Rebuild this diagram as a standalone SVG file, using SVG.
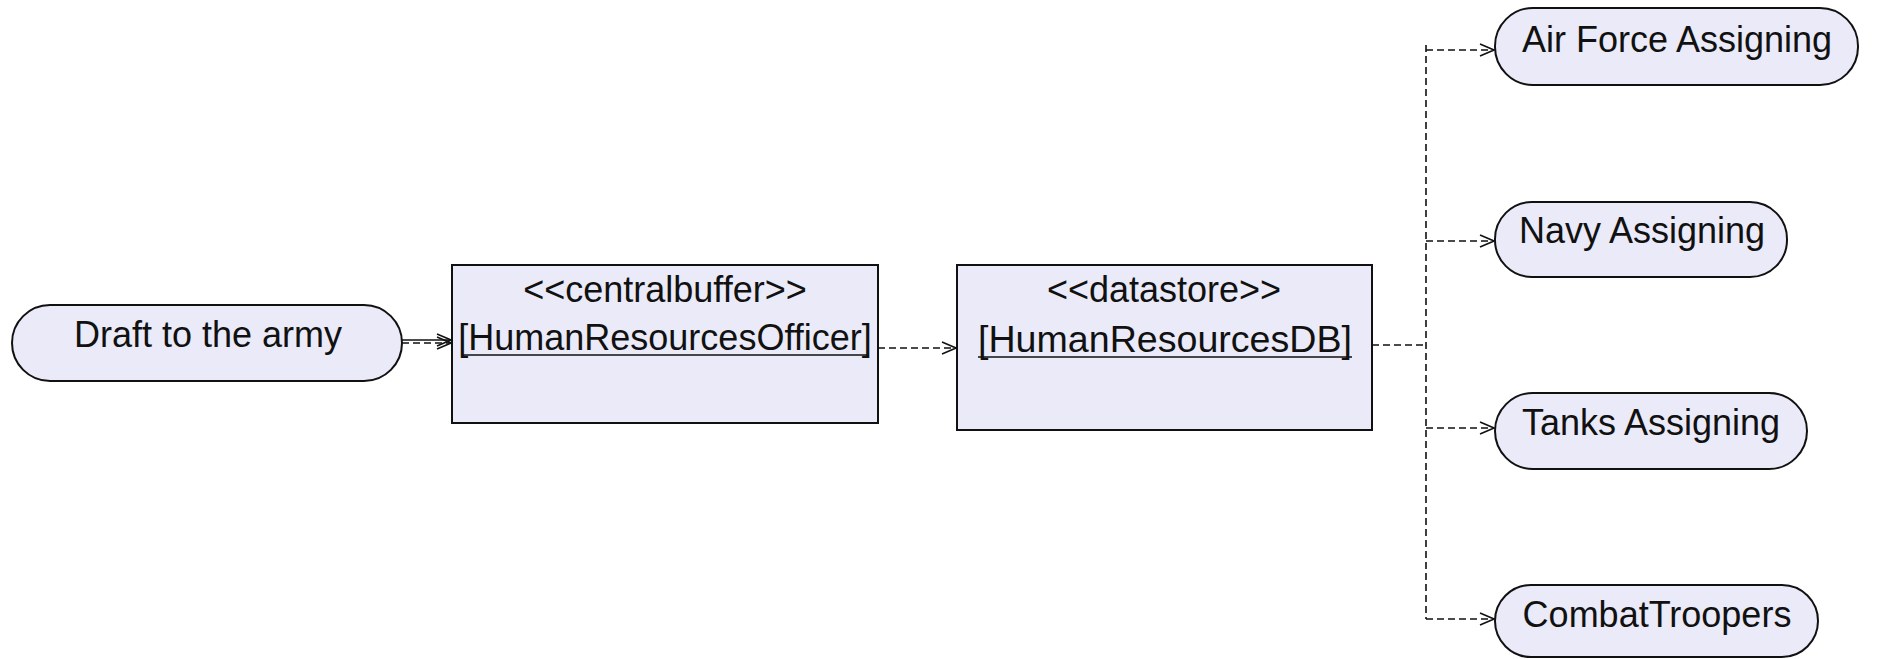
<svg xmlns="http://www.w3.org/2000/svg" width="1886" height="659" viewBox="0 0 1886 659">
<style>
.act{fill:#EAEAF8;stroke:#111;stroke-width:2}
.obj{fill:#EAEAF8;stroke:#111;stroke-width:2}
.t{font-family:"Liberation Sans",Arial,sans-serif;font-size:36px;fill:#111;text-anchor:middle}
.c{fill:none;stroke:#111;stroke-width:1.6}
.d{stroke-dasharray:7,4}
.ul{stroke:#111;stroke-width:1.6}
</style>
<defs>
<marker id="arr" markerWidth="16" markerHeight="14" refX="15" refY="7" orient="auto" markerUnits="userSpaceOnUse">
<path d="M1,1 L15,7 L1,13" fill="none" stroke="#111" stroke-width="1.5"/>
</marker>
</defs>
<rect width="1886" height="659" fill="#fff"/>
<g id="connectors">
<line class="c" x1="402" y1="340" x2="451" y2="340" marker-end="url(#arr)"/>
<line class="c d" x1="402" y1="343" x2="451" y2="343" marker-end="url(#arr)"/>
<line class="c d" x1="878" y1="348" x2="956" y2="348" marker-end="url(#arr)"/>
<line class="c d" x1="1372" y1="345" x2="1426" y2="345"/>
<line class="c d" x1="1426" y1="45" x2="1426" y2="619"/>
<line class="c d" x1="1426" y1="50" x2="1494" y2="50" marker-end="url(#arr)"/>
<line class="c d" x1="1426" y1="241" x2="1494" y2="241" marker-end="url(#arr)"/>
<line class="c d" x1="1426" y1="428" x2="1494" y2="428" marker-end="url(#arr)"/>
<line class="c d" x1="1426" y1="619" x2="1494" y2="619" marker-end="url(#arr)"/>
</g>
<g id="draft">
<rect class="act" x="12" y="305" width="390" height="76" rx="38" ry="38"/>
<text class="t" x="208" y="347">Draft to the army</text>
</g>
<g id="centralbuffer">
<rect class="obj" x="452" y="265" width="426" height="158"/>
<text class="t" x="665" y="302">&lt;&lt;centralbuffer&gt;&gt;</text>
<text class="t" x="665" y="350">[HumanResourcesOfficer]</text>
<line class="ul" x1="462" y1="355" x2="869" y2="355"/>
</g>
<g id="datastore">
<rect class="obj" x="957" y="265" width="415" height="165"/>
<text class="t" x="1164" y="302">&lt;&lt;datastore&gt;&gt;</text>
<text class="t" x="1165" y="352" textLength="374" lengthAdjust="spacingAndGlyphs">[HumanResourcesDB]</text>
<line class="ul" x1="978" y1="357" x2="1352" y2="357"/>
</g>
<g id="airforce">
<rect class="act" x="1495" y="8" width="363" height="77" rx="38" ry="38"/>
<text class="t" x="1677" y="52">Air Force Assigning</text>
</g>
<g id="navy">
<rect class="act" x="1495" y="202" width="292" height="75" rx="37" ry="37"/>
<text class="t" x="1642" y="243">Navy Assigning</text>
</g>
<g id="tanks">
<rect class="act" x="1495" y="393" width="312" height="76" rx="38" ry="38"/>
<text class="t" x="1651" y="435">Tanks Assigning</text>
</g>
<g id="combat">
<rect class="act" x="1495" y="585" width="323" height="72" rx="36" ry="36"/>
<text class="t" x="1657" y="627">CombatTroopers</text>
</g>
</svg>
